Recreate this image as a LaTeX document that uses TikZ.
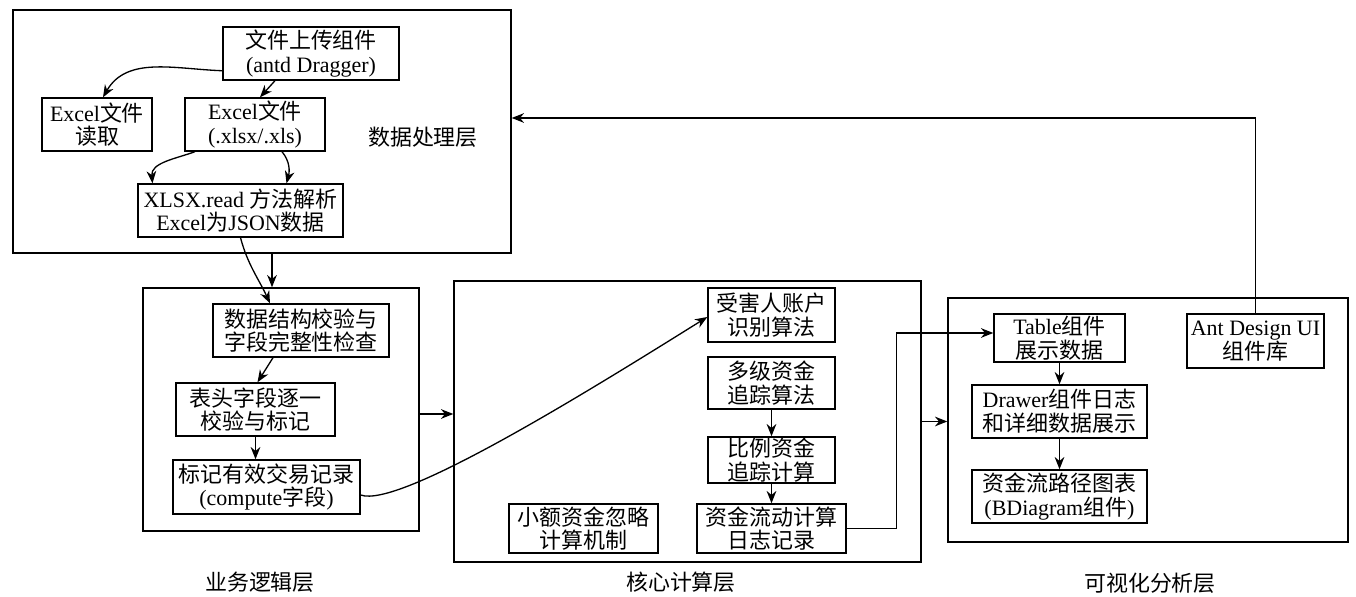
\documentclass[tikz,border=0pt]{standalone}
\usepackage{fontspec}
\setmainfont{Liberation Serif}
\newfontfamily\cjk{Noto Sans CJK SC}
\usetikzlibrary{arrows.meta}
\newcommand{\zh}[1]{{\cjk #1}}
\newcommand{\pxu}{0.02cm}
\tikzset{
layer/.style={draw, line width=0.8pt, inner sep=0pt},
box/.style={draw, line width=0.8pt, align=center, inner sep=0pt,
  font=\fontsize{12.5}{13.5}\selectfont},
sz/.style 2 args={minimum width=#1*\pxu, minimum height=#2*\pxu},
arr/.style={-{Stealth[length=7pt,width=5.5pt]}, line width=0.75pt},
caption/.style={font=\fontsize{12.5}{13.5}\selectfont}
}
\begin{document}
\begin{tikzpicture}[x=\pxu, y=-\pxu]
\useasboundingbox (0,0) rectangle (1356,597);
% layers
\node[layer, sz={498}{243}] (datalayer) at (262,131.5) {};
\node[layer, sz={276}{243}] (logic) at (281,409.5) {};
\node[layer, sz={467}{281}] (core) at (687.5,421.5) {};
\node[layer, sz={400}{244}] (vis) at (1148,420) {};
\node[caption] (datacap) at (423,137) {\zh{数据处理层}};
\node[caption] (logiccap) at (260,582) {\zh{业务逻辑层}};
\node[caption] (corecap) at (681,582) {\zh{核心计算层}};
\node[caption] (viscap) at (1150,583) {\zh{可视化分析层}};
% data layer
\node[box, sz={176}{53}] (upload) at (311,53.5) {\zh{文件上传组件}\\(antd Dragger)};
\node[box, sz={110}{53}] (readxl) at (97,124.5) {Excel\zh{文件}\\\zh{读取}};
\node[box, sz={140}{53}] (xlfile) at (255,124.5) {Excel\zh{文件}\\(.xlsx/.xls)};
\node[box, sz={205}{53}] (parse) at (240.5,210.5) {XLSX.read \zh{方法解析}\\Excel\zh{为}JSON\zh{数据}};
% logic layer
\node[box, sz={176}{53}] (check) at (301,330.5) {\zh{数据结构校验与}\\\zh{字段完整性检查}};
\node[box, sz={159}{53}] (header) at (255.5,409.5) {\zh{表头字段逐一}\\\zh{校验与标记}};
\node[box, sz={187}{54}] (mark) at (266.5,487) {\zh{标记有效交易记录}\\(compute\zh{字段})};
% core layer
\node[box, sz={127}{54}] (victim) at (771.5,315) {\zh{受害人账户}\\\zh{识别算法}};
\node[box, sz={127}{52}] (multi) at (771.5,383) {\zh{多级资金}\\\zh{追踪算法}};
\node[box, sz={127}{46}] (ratio) at (771.5,460) {\zh{比例资金}\\\zh{追踪计算}};
\node[box, sz={149}{49}] (flowlog) at (771.5,528.5) {\zh{资金流动计算}\\\zh{日志记录}};
\node[box, sz={149}{49}] (small) at (583.5,528.5) {\zh{小额资金忽略}\\\zh{计算机制}};
% vis layer
\node[box, sz={131}{48}] (table) at (1059.5,338) {Table\zh{组件}\\\zh{展示数据}};
\node[box, sz={175}{53}] (drawer) at (1059.5,411.5) {Drawer\zh{组件日志}\\\zh{和详细数据展示}};
\node[box, sz={175}{53}] (path) at (1059.5,496.5) {\zh{资金流路径图表}\\(BDiagram\zh{组件})};
\node[box, sz={137}{54}] (antd) at (1255.5,341) {Ant Design UI\\\zh{组件库}};
% connectors
\draw[arr] (upload.191) to[out=178,in=60] ([xshift=6*\pxu]readxl.north);
\draw[arr] ([xshift=-36*\pxu]upload.south) -- ([xshift=5*\pxu]xlfile.north);
\draw[arr] ([xshift=-60*\pxu]xlfile.south) to[out=200,in=95] ([xshift=-88*\pxu]parse.north);
\draw[arr] ([xshift=27*\pxu]xlfile.south) to[out=-50,in=75] ([xshift=46*\pxu]parse.north);
\draw[arr] (parse.south) to[out=-75,in=115] ([xshift=-31*\pxu]check.north);
\draw[arr] (datalayer.south -| 272,0) -- (logic.north -| 272,0);
\draw[arr] ([xshift=-28*\pxu]check.south) -- ([xshift=2*\pxu]header.north);
\draw[arr] (header.south) -- (header.south |- mark.north);
\draw[arr] (logic.east |- 0,414) -- (core.west |- 0,414);
\draw[arr] ([yshift=-8*\pxu]mark.east) .. controls +(-20:0.8cm) and +(212:3cm) .. ([yshift=-2*\pxu]victim.west);
\draw[arr] (multi) -- (ratio);
\draw[arr] (ratio) -- (flowlog);
\draw[arr] (flowlog.east) -- ++(50,0) |- ([yshift=5*\pxu]table.west);
\draw[arr] (core.east) -- (core.east -| vis.west);
\draw[arr] (table) -- (drawer);
\draw[arr] (drawer) -- (path);
\draw[arr] (antd.north) -- (antd.north |- 0,118) -- (datalayer.east |- 0,118);
\end{tikzpicture}
\end{document}
